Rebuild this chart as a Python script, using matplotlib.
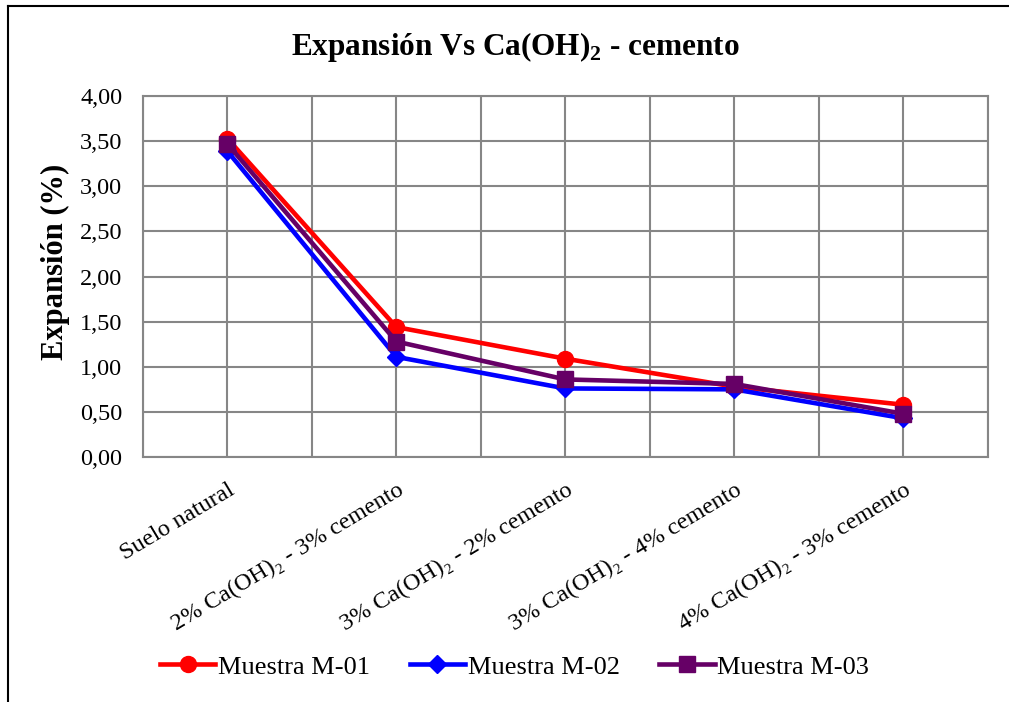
import matplotlib
matplotlib.use("Agg")
import matplotlib.pyplot as plt
from matplotlib.lines import Line2D
from matplotlib.ticker import MultipleLocator, FuncFormatter

plt.rcParams['font.family'] = ['Liberation Serif', 'DejaVu Serif']
plt.rcParams['mathtext.fontset'] = 'custom'
plt.rcParams['mathtext.rm'] = 'Liberation Serif'
plt.rcParams['mathtext.bf'] = 'Liberation Serif:bold'

categories = [
    "Suelo natural",
    "2% Ca(OH)₂ - 3% cemento",
    "3% Ca(OH)₂ - 2% cemento",
    "3% Ca(OH)₂ - 4% cemento",
    "4% Ca(OH)₂ - 3% cemento",
]
m01 = [3.53, 1.44, 1.09, 0.78, 0.58]
m02 = [3.39, 1.11, 0.76, 0.75, 0.43]
m03 = [3.47, 1.28, 0.86, 0.81, 0.48]
series_names = ["Muestra M-01", "Muestra M-02", "Muestra M-03"]

fig = plt.figure(figsize=(10.09, 7.02), dpi=100)
ax = fig.add_axes([0.1417, 0.349, 0.837, 0.514])

x = list(range(len(categories)))
styles = [
    (m01, "#FF0000", "o", 11.5),
    (m02, "#0000FF", "D", 9),
    (m03, "#660066", "s", 11),
]
for (vals, color, marker, ms), name in zip(styles, series_names):
    ax.plot(x, vals, color=color, lw=3.3, marker=marker, ms=ms,
            markeredgecolor=color, label=name, zorder=3)

ax.set_xlim(-0.5, len(categories) - 0.5)
ax.set_ylim(0, 4)
ax.yaxis.set_major_locator(MultipleLocator(0.5))
ax.yaxis.set_major_formatter(FuncFormatter(lambda v, p: f"{v:.2f}".replace(".", ",")))
ax.set_xticks(x)
ax.set_xticks([i - 0.5 for i in range(len(categories) + 1)], minor=True)
ax.set_xticklabels(categories, rotation=31, ha="right", rotation_mode="anchor",
                   fontsize=17.5)
ax.tick_params(axis="x", which="both", length=0, pad=16)
ax.tick_params(axis="y", length=0, pad=15, labelsize=17.5)

ax.grid(True, which="both", color="#868686", lw=1.5)
ax.set_axisbelow(True)
for s in ax.spines.values():
    s.set_color("#868686")
    s.set_linewidth(1.5)

ax.set_ylabel("Expansión (%)", fontsize=22, fontweight="bold",
              va="center", ha="center")
ax.yaxis.set_label_coords(-0.104, 0.54)
fig.text(0.511, 0.933, r"Expansión Vs Ca(OH)$_\mathbf{2}$ - cemento",
         ha="center", va="center", fontsize=22.5, fontweight="bold")

fig.legend(loc="center", bbox_to_anchor=(0.510, 0.05), ncol=3, frameon=False,
           fontsize=19, handlelength=2.1, handletextpad=0.1, columnspacing=1.5)

# outer chart frame
fig.add_artist(Line2D([0.008, 1.0], [0.9915, 0.9915], color="black", lw=1.5,
                      transform=fig.transFigure))
fig.add_artist(Line2D([0.008, 0.008], [0.0, 0.9915], color="black", lw=1.5,
                      transform=fig.transFigure))

fig.savefig("out.png", dpi=100)
